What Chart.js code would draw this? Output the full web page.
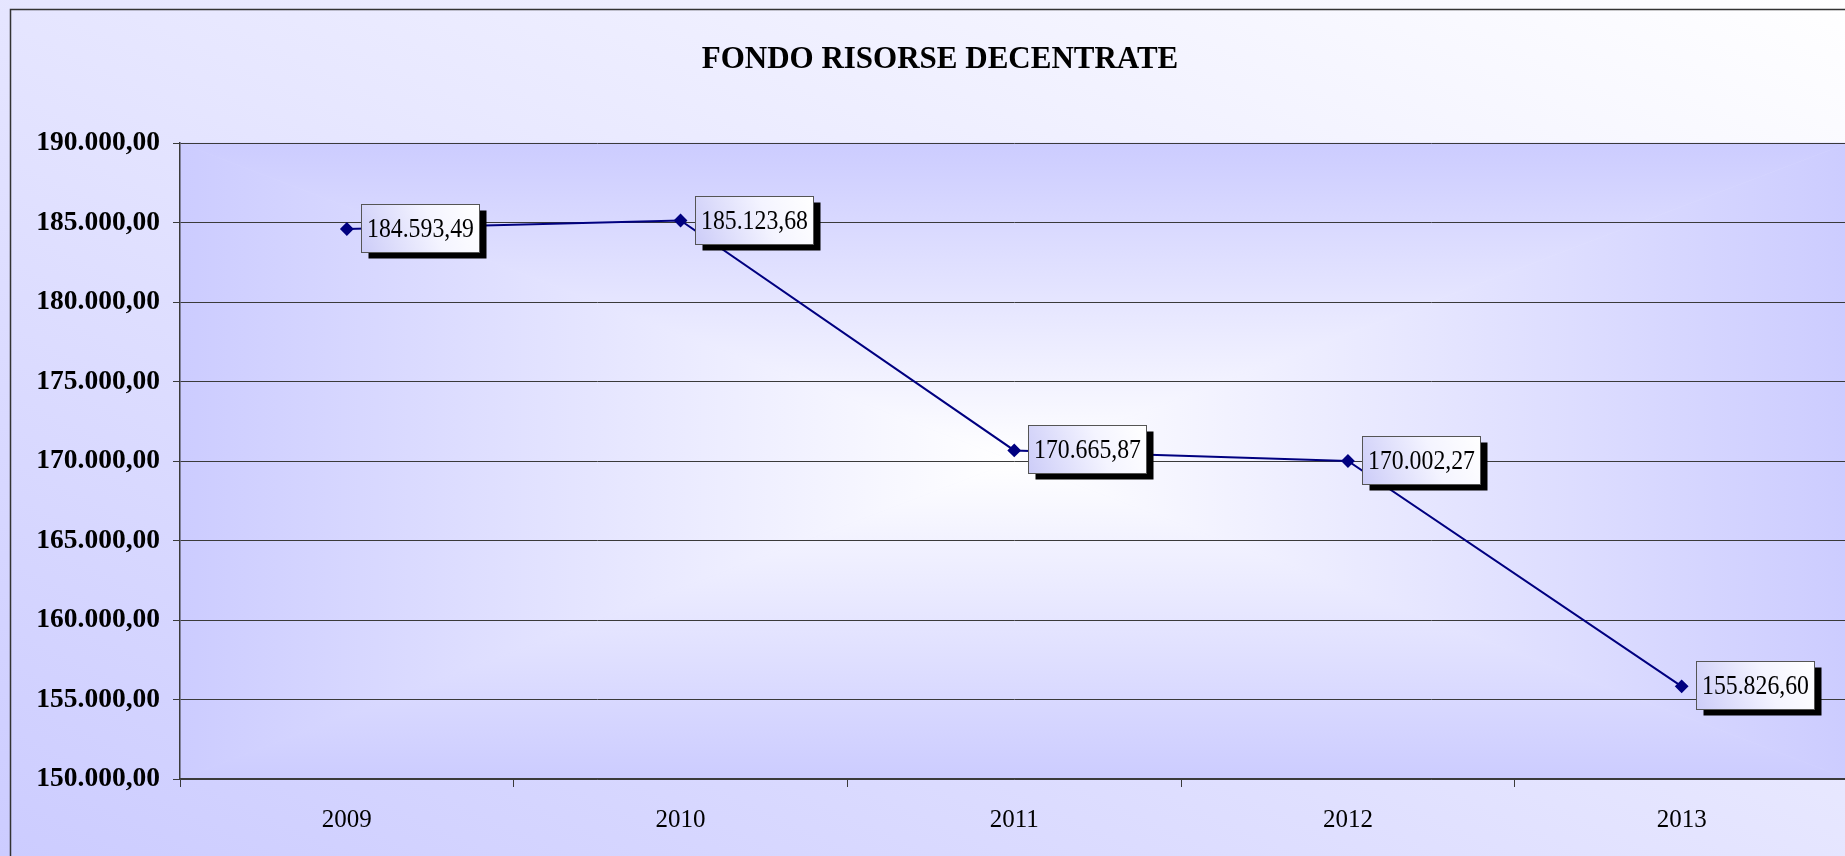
<!DOCTYPE html>
<html>
<head>
<meta charset="utf-8">
<title>Fondo risorse decentrate</title>
<script src="https://cdn.jsdelivr.net/npm/chart.js@4/dist/chart.umd.min.js"></script>
<style>
    html, body { margin: 0; padding: 0; overflow: hidden; background: #ffffff; }
    canvas { display: block; }
</style>
</head>
<body>
<canvas id="fondoChart" width="1856" height="856"></canvas>
<script>
// Data
const years = ["2009", "2010", "2011", "2012", "2013"];
const fondoValues = [184593.49, 185123.68, 170665.87, 170002.27, 155826.60];
const yTicks = [150000, 155000, 160000, 165000, 170000, 175000, 180000, 185000, 190000];

// Italian number format: 184.593,49
function formatIt(value) {
    const parts = value.toFixed(2).split(".");
    const intPart = parts[0].replace(/\B(?=(\d{3})+(?!\d))/g, ".");
    return intPart + "," + parts[1];
}

const serif = '"Liberation Serif", "Times New Roman", serif';

// Backgrounds: diagonal gradient for the chart, rectangular "from center" gradient for the plot
const backgroundPlugin = {
    id: "backgrounds",
    beforeDraw(chart) {
        const ctx = chart.ctx;
        const w = chart.width, h = chart.height;

        ctx.save();
        ctx.scale(w, h);
        const g = ctx.createLinearGradient(0, 1, 1, 0);
        g.addColorStop(0, "#ccccff");
        g.addColorStop(1, "#ffffff");
        ctx.fillStyle = g;
        ctx.fillRect(0, 0, 1, 1);
        ctx.restore();

        const a = chart.chartArea;
        const cx = (a.left + a.right) / 2;
        const cy = (a.top + a.bottom) / 2;
        const edge = "#ccccff", mid = "#ffffff";
        const tris = [
            [[a.left, a.top], [a.right, a.top], a.left, a.top, a.left, cy],
            [[a.left, a.bottom], [a.right, a.bottom], a.left, a.bottom, a.left, cy],
            [[a.left, a.top], [a.left, a.bottom], a.left, a.top, cx, a.top],
            [[a.right, a.top], [a.right, a.bottom], a.right, a.top, cx, a.top]
        ];
        ctx.save();
        tris.forEach(t => {
            const lg = ctx.createLinearGradient(t[2], t[3], t[4], t[5]);
            lg.addColorStop(0, edge);
            lg.addColorStop(1, mid);
            ctx.beginPath();
            ctx.moveTo(t[0][0], t[0][1]);
            ctx.lineTo(t[1][0], t[1][1]);
            ctx.lineTo(cx, cy);
            ctx.closePath();
            ctx.fillStyle = lg;
            ctx.fill();
            // small stroke hides seams between the triangles
            ctx.strokeStyle = lg;
            ctx.lineWidth = 0.6;
            ctx.stroke();
        });
        ctx.restore();

        // outer frame
        ctx.save();
        ctx.strokeStyle = "#333333";
        ctx.lineWidth = 1.5;
        ctx.strokeRect(10.5, 9.5, w + 20, h + 20);
        ctx.restore();
    }
};

// Boxed value labels with a black drop shadow
const valueLabelPlugin = {
    id: "valueLabels",
    afterDatasetsDraw(chart) {
        const ctx = chart.ctx;
        const meta = chart.getDatasetMeta(0);
        meta.data.forEach((pt, i) => {
            const bx = Math.round(pt.x + 14) + 0.5;
            const by = Math.round(pt.y - 25) + 0.5;
            const bw = 118, bh = 48;

            ctx.save();
            ctx.fillStyle = "#000000";
            ctx.fillRect(bx + 7, by + 6, bw, bh);

            const g = ctx.createLinearGradient(bx, by + bh, bx + bw, by);
            g.addColorStop(0, "#ccccf8");
            g.addColorStop(0.6, "#f4f4ff");
            g.addColorStop(1, "#ffffff");
            ctx.fillStyle = g;
            ctx.fillRect(bx, by, bw, bh);
            ctx.strokeStyle = "#555555";
            ctx.lineWidth = 1;
            ctx.strokeRect(bx, by, bw, bh);

            ctx.translate(bx + bw / 2, by + bh / 2 + 1);
            ctx.scale(0.88, 1);
            ctx.font = "27px " + serif;
            ctx.fillStyle = "#000000";
            ctx.textAlign = "center";
            ctx.textBaseline = "middle";
            ctx.fillText(formatIt(fondoValues[i]), 0, 0);
            ctx.restore();
        });
    }
};

const ctx = document.getElementById("fondoChart").getContext("2d");
new Chart(ctx, {
    type: "line",
    data: {
        labels: years,
        datasets: [{
            label: "Fondo risorse decentrate",
            data: fondoValues,
            borderColor: "#000080",
            borderWidth: 2,
            backgroundColor: "#000080",
            pointStyle: "rectRot",
            pointRadius: 5.5,
            pointBackgroundColor: "#000080",
            pointBorderColor: "#000080",
            tension: 0,
            fill: false
        }]
    },
    options: {
        responsive: false,
        animation: false,
        events: [],
        layout: { padding: { left: 27, right: 3, top: 0, bottom: 0 } },
        plugins: {
            legend: { display: false },
            tooltip: { enabled: false },
            title: {
                display: true,
                text: "FONDO RISORSE DECENTRATE",
                color: "#000000",
                font: { family: serif, size: 31, weight: "bold", lineHeight: 1.2 },
                padding: { top: 41, bottom: 64.8 }
            }
        },
        scales: {
            x: {
                offset: true,
                grid: {
                    offset: true,
                    drawOnChartArea: false,
                    drawTicks: true,
                    tickLength: 8,
                    color: "#3a3a3a"
                },
                border: { display: true, color: "#3a3a3a", width: 1.5 },
                ticks: {
                    color: "#000000",
                    font: { family: serif, size: 25 },
                    padding: 18,
                    maxRotation: 0
                },
                afterFit(scale) { scale.height = 77; }
            },
            y: {
                min: yTicks[0],
                max: yTicks[yTicks.length - 1],
                afterBuildTicks(scale) {
                    scale.ticks = yTicks.map(v => ({ value: v }));
                },
                grid: {
                    color: "#3a3a3a",
                    lineWidth: 1,
                    tickLength: 7
                },
                border: { display: true, color: "#3a3a3a", width: 1.5 },
                ticks: {
                    color: "#000000",
                    font: { family: serif, size: 27.5, weight: "bold" },
                    padding: 13,
                    callback: v => formatIt(v)
                },
                afterFit(scale) { scale.width = 153; }
            }
        }
    },
    plugins: [backgroundPlugin, valueLabelPlugin]
});
</script>
</body>
</html>
